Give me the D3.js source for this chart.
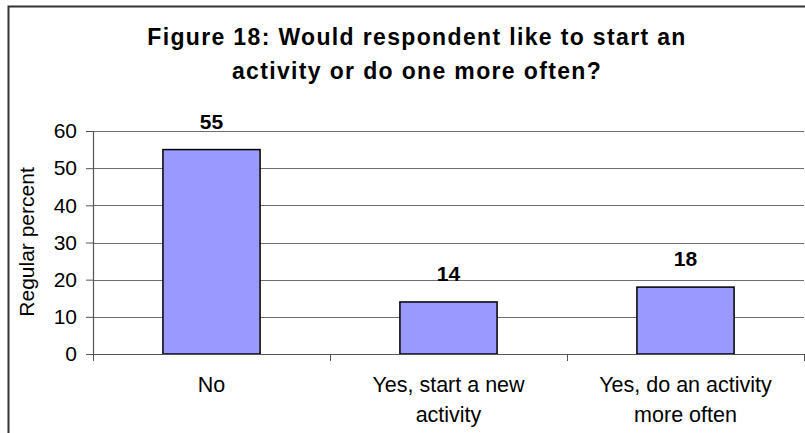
<!DOCTYPE html>
<html>
<head>
<meta charset="utf-8">
<script src="https://cdn.jsdelivr.net/npm/d3@7"></script>
<style>
  html, body { margin: 0; padding: 0; background: #fff; }
  svg { display: block; font-family: "Liberation Sans", Arial, sans-serif; }
</style>
</head>
<body>
<svg id="chart" width="805" height="433"></svg>
<script>
// Survey answers and their regular percents
const categories = ["No", "Yes, start a new activity", "Yes, do an activity more often"];
const categoryLines = [["No"], ["Yes, start a new", "activity"], ["Yes, do an activity", "more often"]];
const values = [55, 14, 18];
const yTicks = [0, 10, 20, 30, 40, 50, 60];
const titleLines = ["Figure 18: Would respondent like to start an", "activity or do one more often?"];
const yTitle = "Regular percent";

const svg = d3.select("#chart");
const W = 805, H = 433;
const plot = { left: 93, right: 804, top: 131, bottom: 354 };

// Outer chart frame
svg.append("rect")
  .attr("x", 8.5).attr("y", 6.5)
  .attr("width", W + 20).attr("height", H + 20)
  .attr("fill", "#fff").attr("stroke", "#333").attr("stroke-width", 2);

// Title
svg.append("g").selectAll("text").data(titleLines).join("text")
  .attr("x", 417).attr("y", (d, i) => 45 + i * 34)
  .attr("text-anchor", "middle")
  .attr("font-size", 23).attr("font-weight", "bold")
  .attr("letter-spacing", 1.35)
  .attr("fill", "#000")
  .text(d => d);

const x = d3.scaleBand().domain(categories).range([plot.left, plot.right]).paddingInner(0.59).paddingOuter(0.295);
const xOuter = d3.scaleBand().domain(categories).range([plot.left, plot.right]);
const y = d3.scaleLinear().domain([0, 60]).range([plot.bottom, plot.top]);

// Horizontal gridlines
svg.append("g").selectAll("line").data(yTicks.filter(t => t > 0)).join("line")
  .attr("x1", plot.left).attr("x2", plot.right)
  .attr("y1", d => Math.round(y(d)) + 0.5).attr("y2", d => Math.round(y(d)) + 0.5)
  .attr("stroke", "#6e6e6e").attr("stroke-width", 1.2);

// Bars
svg.append("g").selectAll("rect").data(values).join("rect")
  .attr("x", (d, i) => x(categories[i]))
  .attr("width", x.bandwidth())
  .attr("y", d => y(d))
  .attr("height", d => y(0) - y(d))
  .attr("fill", "#9999ff").attr("stroke", "#000").attr("stroke-width", 1.5);

// Value labels
svg.append("g").selectAll("text").data(values).join("text")
  .attr("x", (d, i) => x(categories[i]) + x.bandwidth() / 2)
  .attr("y", d => y(d) - 21)
  .attr("text-anchor", "middle")
  .attr("font-size", 21).attr("font-weight", "bold")
  .text(d => d);

// Y axis
const yAxis = svg.append("g").attr("transform", `translate(${plot.left},0)`)
  .call(d3.axisLeft(y).tickValues(yTicks).tickSize(7).tickPadding(9));
yAxis.select(".domain").attr("stroke", "#555").attr("stroke-width", 1.2);
yAxis.selectAll(".tick line").attr("stroke", "#555");
yAxis.selectAll(".tick text").attr("font-size", 21).attr("fill", "#000")
  .attr("font-family", "Liberation Sans, Arial, sans-serif");

// X axis with ticks at category boundaries
const xAxisG = svg.append("g");
xAxisG.append("line")
  .attr("x1", plot.left).attr("x2", plot.right)
  .attr("y1", plot.bottom + 0.5).attr("y2", plot.bottom + 0.5)
  .attr("stroke", "#555").attr("stroke-width", 1.2);
const boundaries = categories.map(c => xOuter(c)).concat([plot.right]);
xAxisG.selectAll("line.tk").data(boundaries).join("line").attr("class", "tk")
  .attr("x1", d => Math.round(d) + 0.5).attr("x2", d => Math.round(d) + 0.5)
  .attr("y1", plot.bottom).attr("y2", plot.bottom + 7)
  .attr("stroke", "#555");

// Category labels
const catG = svg.append("g").selectAll("text").data(categoryLines).join("text")
  .attr("text-anchor", "middle").attr("font-size", 21.5).attr("fill", "#000");
catG.selectAll("tspan").data((d, i) => d.map(t => ({ t, i }))).join("tspan")
  .attr("x", d => xOuter(categories[d.i]) + xOuter.bandwidth() / 2)
  .attr("y", (d, j) => 392 + j * 30)
  .text(d => d.t);

// Y axis title
svg.append("text")
  .attr("transform", "translate(34,242) rotate(-90)")
  .attr("text-anchor", "middle")
  .attr("font-size", 21).attr("fill", "#000")
  .text(yTitle);
</script>
</body>
</html>
